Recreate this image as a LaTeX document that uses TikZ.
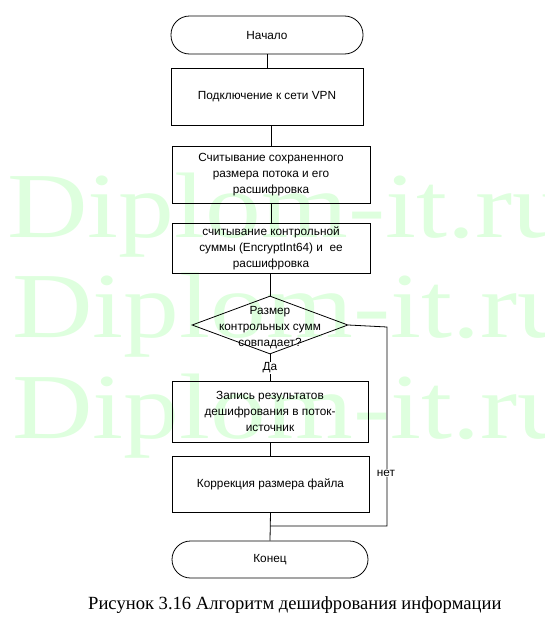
\documentclass[tikz,border=0pt]{standalone}
\usepackage{fontspec}
\setmainfont{Liberation Sans}
\newfontfamily\seriffont{Liberation Serif}
\usetikzlibrary{shapes.geometric}
\definecolor{wmgreen}{RGB}{222,255,222}
\tikzset{
  base/.style={draw=black, line width=0.8pt, inner sep=0pt, align=center, font=\fontsize{11.8}{16}\selectfont},
  term/.style={base, rectangle, rounded corners=18.5pt},
  proc/.style={base, rectangle},
  decis/.style={base, diamond},
  conn/.style={draw=black, line width=0.8pt},
  lbl/.style={font=\fontsize{11.8}{16}\selectfont, fill=white, inner sep=1pt},
  wm/.style={anchor=base west, inner sep=0pt, text=wmgreen, font=\seriffont\fontsize{93}{100}\selectfont}
}
\begin{document}
\begin{tikzpicture}[x=1pt,y=-1pt]
\useasboundingbox (0,0) rectangle (545,632);
% watermark
\node[wm] (w1) at (7,237) {\scalebox{1.2}[1]{Diplom-it.ru}};
\node[wm] (w2) at (12,337) {\scalebox{1.2}[1]{Diplom-it.ru}};
\node[wm] (w3) at (12,438) {\scalebox{1.2}[1]{Diplom-it.ru}};
% nodes
\node[term, minimum width=192pt, minimum height=38pt] (start) at (267,35) {Начало};
\node[proc, minimum width=192pt, minimum height=57pt] (b1) at (267,96.5) {Подключение к сети VPN};
\node[proc, minimum width=198pt, minimum height=57pt] (b2) at (271,174.5) {Считывание сохраненного\\размера потока и его\\расшифровка};
\node[proc, minimum width=198pt, minimum height=50pt] (b3) at (271,248) {\raisebox{-3pt}{\begin{tabular}{@{}c@{}}считывание контрольной\\суммы (EncryptInt64) и~ ее\\расшифровка\end{tabular}}};
\node[decis, minimum width=156pt, minimum height=58pt] (d) at (270,325) {};
\node[align=center, inner sep=0pt, font=\fontsize{11.8}{16}\selectfont] (dt) at (270,328) {Размер\\контрольных сумм\\совпадает?};
\node[proc, minimum width=196pt, minimum height=61pt] (b4) at (270,411.5) {Запись результатов\\дешифрования в поток-\\источник};
\node[proc, minimum width=197pt, minimum height=56pt] (b5) at (270.5,484) {Коррекция размера файла};
\node[term, minimum width=196pt, minimum height=37pt] (end) at (270,559.5) {Конец};
\coordinate (join) at (270,526);
\coordinate (rt) at (387,327);
% connectors
\draw[conn] (start.south) -- (b1.north);
\draw[conn] (b2.north |- b1.south) -- (b2.north);
\draw[conn] (b2.south) -- (b3.north);
\draw[conn] (d.north |- b3.south) -- (d.north);
\draw[conn] (d.south) -- (b4.north |- d.south) -- (b4.north);
\draw[conn] (b5.north |- b4.south) -- (b5.north);
\draw[conn] (b5.south) -- (end.north);
\draw[conn] (d.east) -- (rt) -- (rt |- join) -- (join);
% labels
\node[lbl] (da) at (270,368) {Да};
\node[lbl] (net) at (386,473) {нет};
% caption
\node[anchor=base west, inner sep=0pt, font=\seriffont\fontsize{18.6}{22}\selectfont] (cap) at (88,609) {Рисунок 3.16 Алгоритм дешифрования информации};
\end{tikzpicture}
\end{document}
